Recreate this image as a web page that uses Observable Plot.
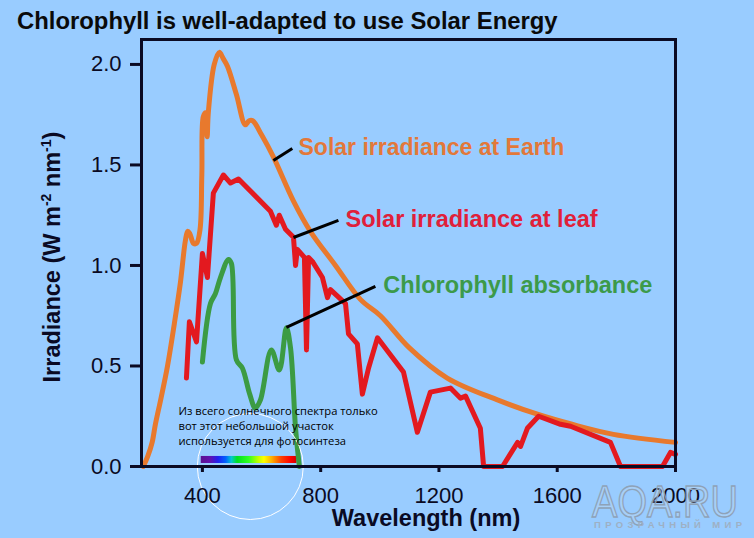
<!DOCTYPE html>
<html><head><meta charset="utf-8">
<script src="https://cdn.jsdelivr.net/npm/d3@7"></script>
<script src="https://cdn.jsdelivr.net/npm/@observablehq/plot@0.6"></script>
<style>
html,body{margin:0;padding:0;background:#99CCFF;}
#chart{position:relative;width:754px;height:538px;}
</style></head><body><div id="chart"></div>
<script>
// Solar irradiance at Earth (W m-2 nm-1)
const earthNm  = [200, 215, 230, 241, 260, 282, 305, 326, 342, 350, 357, 370, 380, 392, 398, 403, 411, 416, 420, 440, 457, 470, 485, 515, 545, 558, 570, 600, 640, 708, 765, 850, 935, 1002, 1100, 1228, 1400, 1533, 1650, 1790, 2000];
const earthVal = [0, 0.05, 0.12, 0.21, 0.34, 0.50, 0.71, 0.92, 1.12, 1.17, 1.16, 1.11, 1.11, 1.18, 1.45, 1.74, 1.76, 1.64, 1.76, 2.00, 2.06, 2.03, 1.99, 1.85, 1.70, 1.72, 1.72, 1.65, 1.54, 1.32, 1.17, 1.00, 0.83, 0.75, 0.59, 0.44, 0.33, 0.26, 0.21, 0.16, 0.12];
// Solar irradiance at leaf
const leafNm  = [346, 356, 380, 400, 417, 437, 471, 495, 522, 630, 650, 660, 681, 708, 715, 721, 745, 752, 759, 772, 806, 823, 833, 884, 894, 924, 941, 962, 992, 1080, 1127, 1171, 1239, 1273, 1290, 1340, 1351, 1415, 1466, 1476, 1499, 1537, 1611, 1645, 1780, 1814, 1956, 1983, 2000];
const leafVal = [0.44, 0.72, 0.62, 1.06, 0.94, 1.36, 1.45, 1.41, 1.43, 1.27, 1.20, 1.25, 1.18, 1.14, 1.00, 1.08, 1.04, 0.58, 1.04, 1.02, 0.94, 0.84, 0.88, 0.81, 0.66, 0.61, 0.36, 0.49, 0.64, 0.47, 0.17, 0.37, 0.39, 0.34, 0.35, 0.19, 0.0, 0.0, 0.12, 0.10, 0.19, 0.25, 0.21, 0.20, 0.12, 0.0, 0.0, 0.07, 0.06];
// Chlorophyll absorbance (scaled)
const chlNm  = [400, 427, 444, 461, 488, 498, 515, 535, 560, 579, 596, 633, 660, 684, 698, 715, 728];
const chlVal = [0.52, 0.81, 0.86, 0.94, 1.03, 1.01, 0.53, 0.49, 0.36, 0.29, 0.33, 0.58, 0.48, 0.69, 0.59, 0.19, 0.0];

const xTicks = [400, 800, 1200, 1600, 2000];
const yTicks = [0, 0.5, 1.0, 1.5, 2.0];

// annotations
const annoText = ["Solar irradiance at Earth", "Solar irradiance at leaf", "Chlorophyll absorbance"];
const annoNm   = [725, 884, 1012];
const annoVal  = [1.547, 1.189, 0.861];
const ptrFromNm  = [640, 708, 684];
const ptrFromVal = [1.522, 1.139, 0.692];
const ptrToNm    = [704, 860, 985];
const ptrToVal   = [1.582, 1.224, 0.896];

const noteText = "Из всего солнечного спектра только\nвот этот небольшой участок\nиспользуется для фотосинтеза";
const noteNm = 319, noteVal = 0.109;
const spectrumNm = [396, 720];
const spectrumVal = [0.015, 0.05];
const circleNm = 562, circleVal = 0;

const earth = earthNm.map((x, i) => ({x, y: earthVal[i]}));
const leaf = leafNm.map((x, i) => ({x, y: leafVal[i]}));
const chl = chlNm.map((x, i) => ({x, y: chlVal[i]}));
const ptrs = ptrFromNm.map((x, i) => ({x1: x, y1: ptrFromVal[i], x2: ptrToNm[i], y2: ptrToVal[i]}));
const annoColors = ["#E2783A", "#E0203A", "#3C9A4A"];

const ink = "#0a0a23";
const font = "'Liberation Sans', Arial, Helvetica, sans-serif";

const plot = Plot.plot({
  width: 754, height: 538,
  marginLeft: 141, marginRight: 79, marginTop: 39, marginBottom: 72,
  style: {background: "#99CCFF", fontFamily: font, color: ink, overflow: "visible"},
  x: {domain: [194, 2000]},
  y: {domain: [0, 2.124]},
  marks: [
    Plot.rect([{x1: spectrumNm[0], x2: spectrumNm[1], y1: spectrumVal[0], y2: spectrumVal[1]}],
      {x1: "x1", x2: "x2", y1: "y1", y2: "y2", fill: "url(#spectrum)"}),
    Plot.line(earth, {x: "x", y: "y", stroke: "#E8792D", strokeWidth: 5, curve: "catmull-rom", strokeLinejoin: "round"}),
    Plot.line(leaf, {x: "x", y: "y", stroke: "#E3191F", strokeWidth: 5, strokeLinejoin: "round"}),
    Plot.line(chl, {x: "x", y: "y", stroke: "#3C9B43", strokeWidth: 5, curve: "catmull-rom", strokeLinejoin: "round"}),
    Plot.dot([{x: circleNm, y: circleVal}], {x: "x", y: "y", r: 53, stroke: "white", strokeWidth: 1, fill: "none"}),
    Plot.link(ptrs, {x1: "x1", y1: "y1", x2: "x2", y2: "y2", stroke: "#000", strokeWidth: 3}),
    ...annoText.map((t, i) => Plot.text([t], {x: () => annoNm[i], y: () => annoVal[i], text: d => d,
      fill: annoColors[i], fontSize: i === 0 ? 23 : 23.5, fontWeight: "bold", textAnchor: "start", lineAnchor: "bottom"})),
    Plot.text([noteText], {x: () => noteNm, y: () => noteVal, text: d => d, fill: "#000", fontSize: 11.2, fontWeight: 500,
      fontFamily: "'Open Sans', 'DejaVu Sans', sans-serif", textAnchor: "start", lineAnchor: "bottom", lineHeight: 1.3}),
    Plot.axisX(xTicks, {tickSize: 6, tickPadding: 15, fontSize: 22, strokeWidth: 3, label: null, tickFormat: d => String(d)}),
    Plot.axisY(yTicks, {tickSize: 11, tickPadding: 9, fontSize: 22, strokeWidth: 3, label: null, tickFormat: d3.format(".1f")}),
    Plot.frame({stroke: ink, strokeWidth: 3})
  ]
});

const svg = d3.select(plot);
const defs = svg.insert("defs", ":first-child");
const grad = defs.append("linearGradient").attr("id", "spectrum");
[[0, "#5a1090"], [0.1, "#6010b0"], [0.18, "#2020f0"], [0.26, "#0060ff"], [0.32, "#00c8d0"], [0.38, "#00e020"],
 [0.5, "#30ff20"], [0.6, "#c0ff00"], [0.66, "#ffff00"], [0.74, "#ffb000"], [0.84, "#ff4000"], [0.94, "#ff0000"], [1, "#d00000"]]
  .forEach(([o, c]) => grad.append("stop").attr("offset", o).attr("stop-color", c));

// title
svg.append("text").attr("x", 17).attr("y", 29).attr("text-anchor", "start").attr("font-size", 23.85).attr("font-weight", "bold")
  .attr("fill", "#0a0a0a").attr("font-family", font).text("Chlorophyll is well-adapted to use Solar Energy");

// x label
svg.append("text").attr("x", 426).attr("y", 526).attr("text-anchor", "middle").attr("font-size", 23.5)
  .attr("font-weight", "bold").attr("fill", ink).attr("font-family", font).text("Wavelength (nm)");

// y label with superscripts
const yl = svg.append("text").attr("transform", "translate(60,257) rotate(-90)").attr("text-anchor", "middle")
  .attr("font-size", 23.5).attr("font-weight", "bold").attr("fill", ink).attr("font-family", font);
yl.append("tspan").text("Irradiance (W m");
yl.append("tspan").attr("dy", -9).attr("font-size", 14).text("-2");
yl.append("tspan").attr("dy", 9).text(" nm");
yl.append("tspan").attr("dy", -9).attr("font-size", 14).text("-1");
yl.append("tspan").attr("dy", 9).text(")");

// watermark
svg.append("text").attr("x", 592).attr("y", 517).attr("text-anchor", "start").attr("font-size", 45).attr("font-family", font)
  .attr("textLength", 146).attr("lengthAdjust", "spacingAndGlyphs")
  .attr("fill", "rgba(205,216,230,0.3)").attr("stroke", "#8ea2b8").attr("stroke-width", 1.4).text("AQA.RU");
svg.append("text").attr("x", 594).attr("y", 528).attr("text-anchor", "start").attr("font-size", 9.5).attr("font-family", font)
  .attr("textLength", 148).attr("lengthAdjust", "spacing").attr("font-weight", "bold")
  .attr("fill", "#9eb0c4").text("ПРОЗРАЧНЫЙ МИР");

document.getElementById("chart").appendChild(plot);
</script>
</body></html>
